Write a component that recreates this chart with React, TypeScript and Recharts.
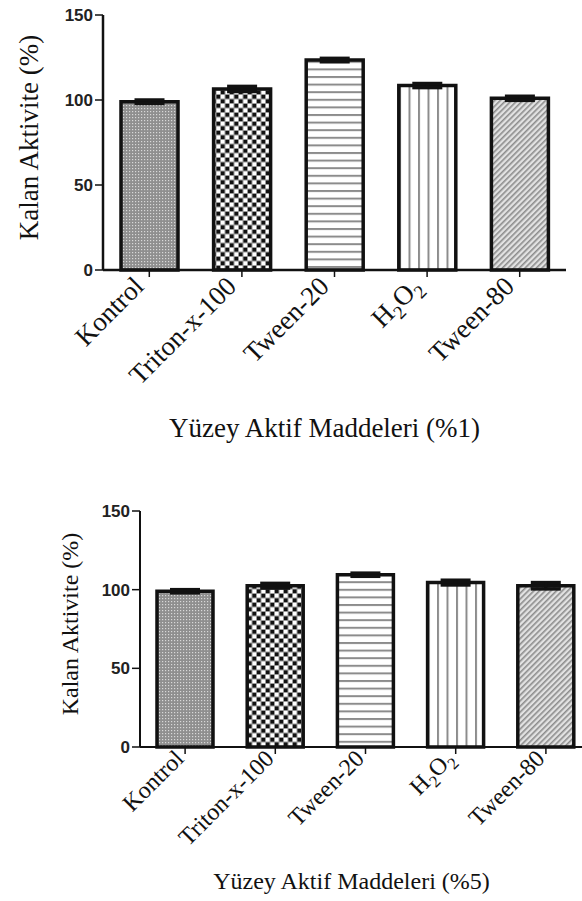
import { BarChart, Bar, XAxis, YAxis, Cell, ErrorBar } from 'recharts';

// values
const categories = ['Kontrol', 'Triton-x-100', 'Tween-20', 'H2O2', 'Tween-80'];
const activity1 = [99, 106.5, 123.5, 108.5, 101];
const error1 = [1, 1.5, 1, 1.2, 1.2];
const activity5 = [99, 102.5, 109.5, 104.5, 102.5];
const error5 = [1, 1.5, 1, 1.5, 2];
const yTicks = [0, 50, 100, 150];

const data1 = categories.map((name, i) => ({ name, value: activity1[i], err: error1[i] }));
const data5 = categories.map((name, i) => ({ name, value: activity5[i], err: error5[i] }));

const SERIF = '"Liberation Serif", "Times New Roman", serif';
const SANS = '"Liberation Sans", Arial, sans-serif';

// fill patterns, one per bar
const Patterns = ({ id }: { id: string }) => (
  <defs>
    <pattern id={`${id}-p0`} width={3} height={3} patternUnits="userSpaceOnUse">
      <rect width={3} height={3} fill="#8f8f8f" />
      <rect width={1.2} height={1.2} fill="#d8d8d8" />
    </pattern>
    <pattern id={`${id}-p1`} width={9} height={9} patternUnits="userSpaceOnUse">
      <rect width={9} height={9} fill="#9a9a9a" />
      <rect x={0.5} y={0.5} width={3.5} height={3.5} fill="#ffffff" />
      <rect x={5} y={5} width={3.5} height={3.5} fill="#ffffff" />
      <rect x={5} y={0.5} width={3.5} height={3.5} fill="#111111" />
      <rect x={0.5} y={5} width={3.5} height={3.5} fill="#111111" />
    </pattern>
    <pattern id={`${id}-p2`} width={8} height={7.6} patternUnits="userSpaceOnUse">
      <rect width={8} height={7.6} fill="#ffffff" />
      <rect y={0} width={8} height={2} fill="#8c8c8c" />
    </pattern>
    <pattern id={`${id}-p3`} width={9.5} height={8} patternUnits="userSpaceOnUse">
      <rect width={9.5} height={8} fill="#ffffff" />
      <rect x={0} width={2} height={8} fill="#8c8c8c" />
    </pattern>
    <pattern id={`${id}-p4`} width={4} height={4} patternUnits="userSpaceOnUse" patternTransform="rotate(45)">
      <rect width={4} height={4} fill="#e2e2e2" />
      <rect width={1.6} height={4} fill="#8c8c8c" />
    </pattern>
  </defs>
);

const XTick = (props: any) => {
  const { x, y, payload, fs, ox, oy } = props;
  const v: string = payload.value;
  return (
    <g transform={`translate(${x + ox},${y + oy})`}>
      <text x={0} y={0} textAnchor="end" transform="rotate(-45)" fontFamily={SERIF} fontSize={fs} fill="#111">
        {v === 'H2O2' ? (
          <>
            <tspan>H</tspan>
            <tspan dy={fs * 0.25} fontSize={fs * 0.7}>2</tspan>
            <tspan dy={-fs * 0.25}>O</tspan>
            <tspan dy={fs * 0.25} fontSize={fs * 0.7}>2</tspan>
          </>
        ) : (
          v
        )}
      </text>
    </g>
  );
};

const yLabel = (text: string, dx: number, fs: number, dy: number) => (props: any) => {
  const vb = props.viewBox || { x: 0, y: 0, width: 0, height: 0 };
  const cx = vb.x + dx;
  const cy = vb.y + vb.height / 2 + dy;
  return (
    <text x={cx} y={cy} transform={`rotate(-90, ${cx}, ${cy})`} textAnchor="middle" dominantBaseline="central"
      fontFamily={SERIF} fontSize={fs} fill="#111">
      {text}
    </text>
  );
};

const xLabel = (text: string, dx: number, fs: number, fromBottom: number) => (props: any) => {
  const vb = props.viewBox || { x: 0, y: 0, width: 0, height: 0 };
  return (
    <text x={vb.x + vb.width / 2 + dx} y={vb.y + vb.height - fromBottom} textAnchor="middle"
      fontFamily={SERIF} fontSize={fs} fill="#111">
      {text}
    </text>
  );
};

type PanelProps = {
  id: string;
  data: { name: string; value: number; err: number }[];
  width: number;
  height: number;
  top: number;
  right: number;
  yWidth: number;
  xHeight: number;
  barSize: number;
  tickFs: number;
  tickOx: number;
  tickOy: number;
  yTitleFs: number;
  xTitleFs: number;
  yTitleX: number;
  xTitleDx: number;
  title: string;
  lineW: number;
};

const Panel = (p: PanelProps) => (
  <BarChart width={p.width} height={p.height} data={p.data} barSize={p.barSize}
    margin={{ top: p.top, right: p.right, bottom: 0, left: 0 }}>
    <Patterns id={p.id} />
    <XAxis dataKey="name" interval={0} height={p.xHeight} stroke="#111" strokeWidth={p.lineW}
      tickSize={7} tickLine={{ stroke: '#111', strokeWidth: 1.5 }}
      tick={<XTick fs={p.tickFs} ox={p.tickOx} oy={p.tickOy} />}
      label={{ content: xLabel(p.title, p.xTitleDx, p.xTitleFs, 8) }} />
    <YAxis domain={[0, 150]} ticks={yTicks} width={p.yWidth} stroke="#111" strokeWidth={p.lineW}
      tickSize={8} tickLine={{ stroke: '#111', strokeWidth: 1.5 }}
      tick={{ fill: '#222', fontFamily: SANS, fontWeight: 'bold', fontSize: 17 }}
      label={{ content: yLabel('Kalan Aktivite (%)', p.yTitleX, p.yTitleFs, -5) }} />
    <Bar dataKey="value" stroke="#111" strokeWidth={3.5} isAnimationActive={false}>
      {p.data.map((d, i) => (
        <Cell key={d.name} fill={`url(#${p.id}-p${i})`} />
      ))}
      <ErrorBar dataKey="err" width={15} stroke="#111" strokeWidth={3.5} direction="y" />
    </Bar>
  </BarChart>
);

export default function App() {
  return (
    <div style={{ position: 'absolute', left: 0, top: 0, width: 582, height: 901, overflow: 'hidden', background: '#fff' }}>
      <div style={{ position: 'absolute', left: 0, top: 0 }}>
        <Panel id="c1" data={data1} width={582} height={445} top={15} right={16} yWidth={103} xHeight={175}
          barSize={57} tickFs={27} tickOx={-4} tickOy={9} yTitleFs={27} xTitleFs={27} yTitleX={29} xTitleDx={-10}
          title="Yüzey Aktif Maddeleri (%1)" lineW={2.5} />
      </div>
      <div style={{ position: 'absolute', left: 0, top: 490 }}>
        <Panel id="c5" data={data5} width={600} height={407} top={21} right={9} yWidth={140} xHeight={150}
          barSize={56} tickFs={24} tickOx={0} tickOy={4} yTitleFs={24} xTitleFs={24} yTitleX={70} xTitleDx={-14}
          title="Yüzey Aktif Maddeleri (%5)" lineW={2} />
      </div>
    </div>
  );
}
